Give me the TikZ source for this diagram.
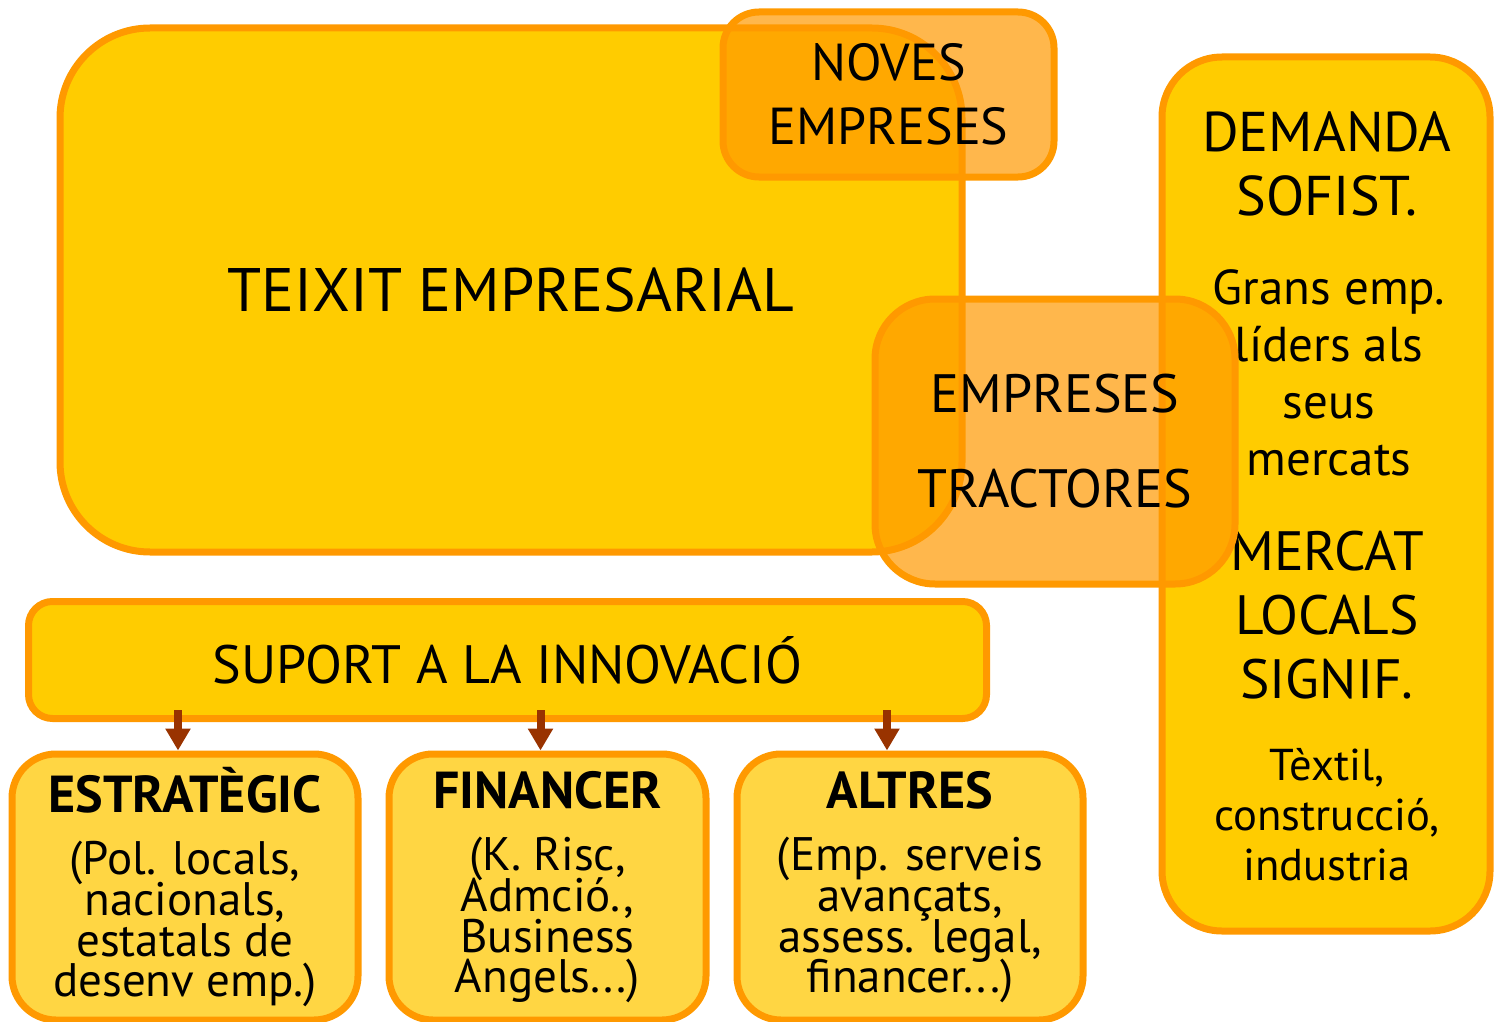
\documentclass[tikz,border=0pt]{standalone}
\usepackage{fontspec}
\setmainfont{PT Sans}
\usetikzlibrary{arrows.meta}
\definecolor{groc}{HTML}{FFCC00}
\definecolor{grocclar}{HTML}{FFD643}
\definecolor{taronja}{HTML}{FF9900}
\definecolor{marro}{HTML}{993300}

\begin{document}
\begin{tikzpicture}[x=0.5pt,y=-0.5pt,
    caixa/.style={draw=taronja,line width=3.5pt,fill=groc,inner sep=0pt,align=center},
    vidre/.style={caixa,fill=taronja,fill opacity=0.7,text opacity=1},
    ajut/.style={caixa,fill=grocclar,minimum height=133pt,rounded corners=22pt,
      font=\fontsize{23.5}{20.3}\selectfont,
      execute at begin node={\setlength{\lineskiplimit}{-20pt}}},
    fletxa/.style={draw=marro,line width=4pt,-{Triangle[width=12pt,length=11pt]}}]
      \useasboundingbox (0,0) rectangle (1494,1022);
      \node[caixa,minimum width=451pt,minimum height=262pt,rounded corners=45pt,
        font=\fontsize{30.7}{36}\selectfont] (teixit) at (511,290) {TEIXIT EMPRESARIAL};
      \node[vidre,minimum width=165.5pt,minimum height=82.5pt,rounded corners=18pt,
        font=\fontsize{26}{32}\selectfont] (noves) at (888.5,94.5) {NOVES\\EMPRESES};
      \node[caixa,minimum width=164pt,minimum height=437pt,rounded corners=30pt] (demanda) at (1326,494) {};
      \node[align=center,font=\fontsize{28}{32}\selectfont] (sofist) at (1327,164) {DEMANDA\\SOFIST.};
      \node[align=center,font=\fontsize{24.5}{28.5}\selectfont] (grans) at (1329,373) {Grans emp.\\líders als\\seus\\mercats};
      \node[align=center,font=\fontsize{27.7}{32}\selectfont] (mercat) at (1327,615) {MERCAT\\LOCALS\\SIGNIF.};
      \node[align=center,font=\fontsize{22.3}{25}\selectfont] (textil) at (1327,815) {Tèxtil,\\construcció,\\industria};
      \node[vidre,minimum width=180pt,minimum height=142.5pt,rounded corners=30pt,
        font=\fontsize{27}{47.5}\selectfont] (tractores) at (1055,441.5) {EMPRESES\\TRACTORES};
      \node[caixa,minimum width=479pt,minimum height=58.5pt,rounded corners=12pt,
        font=\fontsize{27}{34}\selectfont] (suport) at (507.5,660) {SUPORT A LA INNOVACIÓ};
      \node[ajut,minimum width=173pt] (estrategic) at (185,887)
        {{\fontsize{26}{20.3}\selectfont\textbf{ESTRATÈGIC}}\\[11pt](Pol. locals,\\nacionals,\\estatals de\\desenv emp.)};
      \node[ajut,minimum width=158.5pt] (financer) at (547.5,887)
        {{\fontsize{26}{20.3}\selectfont\textbf{FINANCER}}\\[11pt](K. Risc,\\Admció.,\\Business\\Angels...)};
      \node[ajut,minimum width=173pt] (altres) at (910,887)
        {{\fontsize{26}{20.3}\selectfont\textbf{ALTRES}}\\[11pt](Emp. serveis\\avançats,\\assess. legal,\\financer...)};
      \foreach \n/\dx in {estrategic/-7,financer/-7,altres/-23}
        \draw[fletxa] ([xshift=\dx*0.5pt,yshift=6pt]suport.south -| \n.north) -- ([xshift=\dx*0.5pt]\n.north);
    \end{tikzpicture}
\end{document}
